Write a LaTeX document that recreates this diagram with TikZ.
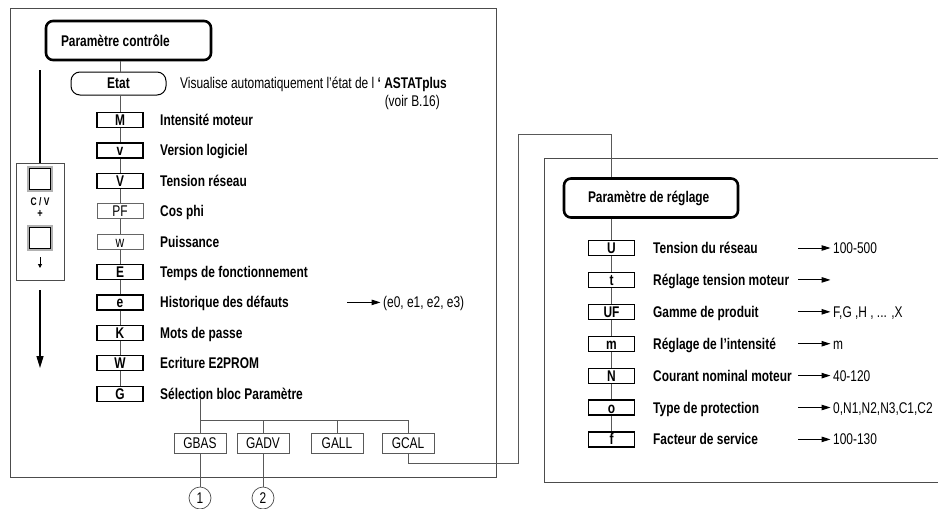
\documentclass[tikz,border=0pt]{standalone}
\usepackage{fontspec}
\setmainfont{Liberation Sans}[FakeStretch=0.77]
\usetikzlibrary{arrows.meta,positioning}

\newcommand{\diagfont}{\fontsize{15.5}{18}\selectfont}

\tikzset{
  outline/.style={draw=black!70,line width=0.8pt},
  link/.style={draw=black!65,line width=0.8pt},
  titlebox/.style={draw,line width=2.6pt,rounded corners=7pt,minimum height=39pt,inner sep=0pt,font=\diagfont\bfseries},
  etatbox/.style={draw,line width=1pt,rounded corners=9pt,minimum width=95pt,minimum height=23pt,font=\diagfont\bfseries},
  keybox/.style={draw,fill=white,line width=1.2pt,minimum width=46pt,minimum height=15pt,inner sep=0pt,text height=11pt,text depth=0pt,font=\diagfont\bfseries},
  keylite/.style={keybox,draw=black!60,line width=0.7pt,font=\diagfont},
  grpbox/.style={draw=black!65,line width=0.7pt,minimum width=52pt,minimum height=20pt,inner sep=0pt,font=\diagfont},
  lbl/.style={anchor=base west,inner sep=0pt,font=\diagfont\bfseries},
  val/.style={anchor=base west,inner sep=0pt,font=\diagfont},
  arr/.style={-{Triangle[length=9pt,width=5.5pt]},line width=1pt,shorten >=2.5pt},
  marker/.style={circle,draw=black!70,line width=0.7pt,minimum size=22pt,inner sep=0pt,font=\diagfont}
}

\begin{document}
\begin{tikzpicture}[x=1pt,y=-1pt]
  \useasboundingbox (0,0) rectangle (938,509);

  % the two frames
  \draw[outline] (10,8) rectangle (496,477);
  \draw[outline] (940,158) -| (544,482) -- (940,482);

  % control parameters
  \node[titlebox,minimum width=165pt] (pc) at (128.5,40.5) {\makebox[135pt][l]{Paramètre contrôle}};
  \node[etatbox] (etat) at (118.5,83.5) {Etat};
  \node[val] (vis) at (180,88.5) {Visualise automatiquement l’état de l \textbf{‘ ASTATplus}};
  \node[val,anchor=base east] (voir) at (440,106) {(voir B.16)};

  \foreach \key/\st/\lab [count=\i] in {
      M/keybox/Intensité moteur, v/keybox/Version logiciel, V/keybox/Tension réseau,
      PF/keylite/Cos phi, w/keylite/Puissance, E/keybox/Temps de fonctionnement,
      e/keybox/Historique des défauts, K/keybox/Mots de passe, W/keybox/Ecriture E2PROM,
      G/keybox/Sélection bloc Paramètre} {
    \node[\st] (k\i) at (120,{120+30.4*(\i-1)}) {\key};
    \node[lbl] (l\i) at (160,{125.5+30.4*(\i-1)}) {\lab};
  }
  \draw[link] (pc.south -| k1) -- (etat.north -| k1);
  \draw[link] (etat.south -| k1) -- (k1);
  \foreach \i [remember=\i as \j (initially 1)] in {2,...,10}
    \draw[link] (k\j) -- (k\i);

  \coordinate (ea) at (347,302.4);
  \node[val] (ev) at (383,307.9) {(e0, e1, e2, e3)};
  \draw[arr] (ea) -- (ev.west |- ea);

  % parameter groups
  \node[grpbox] (gbas) at (200,443) {GBAS};
  \node[grpbox] (gadv) at (263,443) {GADV};
  \node[grpbox] (gall) at (337,443) {GALL};
  \node[grpbox] (gcal) at (408,443) {GCAL};
  \coordinate (bus) at (200,420);
  \draw[link] (gbas |- l10.south) -- (gbas);
  \draw[link] (gbas |- bus) -| (gcal);
  \foreach \g in {gadv,gall}
    \draw[link] (\g |- bus) -- (\g);

  \node[marker] (c1) at (200,498) {1};
  \node[marker] (c2) at (263,498) {2};
  \draw[link] (gbas) -- (c1);
  \draw[link] (gadv) -- (c2);

  % key panel
  \coordinate (navtop) at (40,70);
  \coordinate (navend) at (40,368);
  \node[outline,minimum width=48pt,minimum height=117pt] (panel) at (40,221.5) {};
  \foreach \yb in {179,238} {
    \draw[gray!60,line width=2.6pt] (28,\yb-12) rectangle (52,\yb+12);
    \draw[line width=1.1pt] (29.8,\yb-10.2) rectangle (50.2,\yb+10.2);
  }
  \node[font=\fontsize{11}{12}\selectfont\bfseries] (cv) at (40,202) {C / V};
  \node[font=\fontsize{12}{13}\selectfont\bfseries] (plus) at (40,214) {+};
  \draw[-{Triangle[length=4pt,width=4pt]},line width=0.9pt] (40,257) -- (40,268);
  \draw[line width=1.4pt] (navtop) -- (panel);
  \draw[line width=1.4pt,-{Triangle[length=12pt,width=7pt]}] ([yshift=-10pt]panel.south) -- (navend);

  % setting parameters
  \node[titlebox,minimum width=174pt] (rg) at (651,198) {\makebox[126pt][l]{Paramètre de réglage}};
  \foreach \key/\lab/\v [count=\i] in {
      U/Tension du réseau/100-500, t/Réglage tension moteur/{},
      UF/Gamme de produit/{F,G ,H , ... ,X}, m/Réglage de l’intensité/m,
      N/Courant nominal moteur/40-120, o/Type de protection/{0,N1,N2,N3,C1,C2},
      f/Facteur de service/100-130} {
    \node[keybox] (r\i) at (611.5,{248+31.9*(\i-1)}) {\key};
    \node[lbl] (rl\i) at (653,{253.5+31.9*(\i-1)}) {\lab};
    \coordinate (ra\i) at (798,{248+31.9*(\i-1)});
    \node[val] (rv\i) at (833,{253.5+31.9*(\i-1)}) {\v};
    \draw[arr] (ra\i) -- (rv\i.west |- ra\i);
  }
  \draw[link] (rg.south -| r1) -- (r1);
  \foreach \i [remember=\i as \j (initially 1)] in {2,...,7}
    \draw[link] (r\j) -- (r\i);

  % link from GCAL into the setting block
  \coordinate (ja) at (518,463);
  \coordinate (jb) at (518,134);
  \draw[link] (gcal) |- (ja) -- (jb) -| (r1 |- rg.north);
\end{tikzpicture}
\end{document}
